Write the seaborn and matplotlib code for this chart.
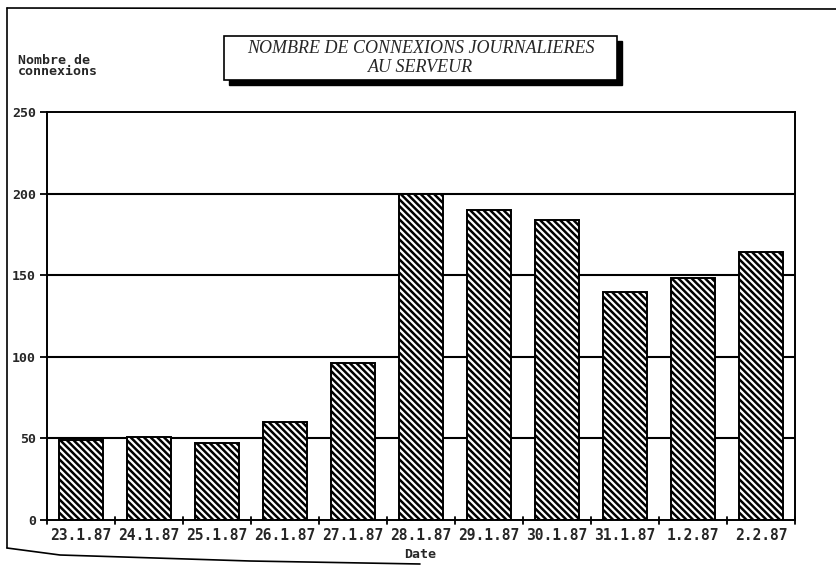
import matplotlib
matplotlib.use("Agg")
import matplotlib.pyplot as plt
import seaborn as sns
import pandas as pd
from matplotlib.patches import Rectangle
from matplotlib.lines import Line2D

dates = ["23.1.87", "24.1.87", "25.1.87", "26.1.87", "27.1.87", "28.1.87",
         "29.1.87", "30.1.87", "31.1.87", "1.2.87", "2.2.87"]
connexions = [49, 51, 47, 60, 96, 200, 190, 184, 140, 148, 164]
yticks = [0, 50, 100, 150, 200, 250]

title = "NOMBRE DE CONNEXIONS JOURNALIERES\nAU SERVEUR"
ylabel = "Nombre de\nconnexions"
xlabel = "Date"

sns.set_theme(style="white")
plt.rcParams["hatch.linewidth"] = 1.8
plt.rcParams["hatch.color"] = "black"
mono = ["DejaVu Sans Mono"]

df = pd.DataFrame({"date": dates, "n": connexions})

W, H = 837, 567
fig = plt.figure(figsize=(W / 100, H / 100), dpi=100)
fig.patch.set_facecolor("white")
ax = fig.add_axes([47 / W, 1 - 520 / H, (795 - 47) / W, (520 - 112) / H])
ax.set_facecolor("white")

for v in yticks[1:-1]:
    ax.axhline(v, color="black", lw=1.5, zorder=0)

sns.barplot(data=df, x="date", y="n", color="white", edgecolor="black",
            linewidth=1.4, width=0.65, hatch="\\\\\\\\\\", saturation=1,
            ax=ax, zorder=2)

ax.set_ylim(0, 250)
ax.set_xlim(-0.5, len(dates) - 0.5)
ax.set_yticks(yticks)
ax.set_yticklabels([str(t) for t in yticks], family=mono, fontweight="bold", fontsize=9.5)
ax.set_xticks(range(len(dates)))
ax.set_xticklabels(dates, family=mono, fontweight="bold", fontsize=10.5)
ax.tick_params(axis="x", length=0, pad=6)
ax.tick_params(axis="y", length=5, width=1.3, color="black", direction="out", left=True, pad=3)
# boundary ticks on x axis
for b in [i - 0.5 for i in range(len(dates) + 1)]:
    ax.plot([b, b], [-2.5, 2.0], color="black", lw=1.3, clip_on=False, zorder=5)
ax.set_xlabel("")
ax.set_ylabel("")
for s in ax.spines.values():
    s.set_color("black")
    s.set_linewidth(1.4)
    s.set_visible(True)

fig.text(420 / W, 1 - 555 / H, xlabel, family=mono, fontweight="bold",
         fontsize=9.5, ha="center", va="center")
fig.text(18 / W, 1 - 54 / H, ylabel, family=mono, fontweight="bold",
         fontsize=9.5, ha="left", va="top", linespacing=0.8)

# title box with shadow
bx0, by0, bx1, by1 = 224, 36, 617, 80
fig.patches.append(Rectangle(((bx0 + 5) / W, 1 - (by1 + 5) / H), (bx1 - bx0) / W,
                             (by1 - by0) / H, transform=fig.transFigure,
                             facecolor="black", edgecolor="black", zorder=1))
fig.patches.append(Rectangle((bx0 / W, 1 - by1 / H), (bx1 - bx0) / W,
                             (by1 - by0) / H, transform=fig.transFigure,
                             facecolor="white", edgecolor="black", lw=1.2, zorder=2))
fig.text((bx0 + bx1) / 2 / W, 1 - 58 / H, title, family=["Liberation Serif"],
         style="italic", fontsize=13, ha="center", va="center",
         linespacing=1.1, zorder=3)

# page border (scanned sheet edges)
fig.lines.append(Line2D([7 / W, 1.0], [1 - 8 / H, 1 - 9 / H], transform=fig.transFigure,
                        color="black", lw=1.2))
fig.lines.append(Line2D([7 / W, 7 / W], [1 - 8 / H, 1 - 548 / H], transform=fig.transFigure,
                        color="black", lw=1.2))
fig.lines.append(Line2D([7 / W, 60 / W, 250 / W, 420 / W],
                        [1 - 548 / H, 1 - 555 / H, 1 - 561 / H, 1 - 564 / H],
                        transform=fig.transFigure, color="black", lw=1.2))

fig.savefig("out.png", dpi=100, facecolor="white")
